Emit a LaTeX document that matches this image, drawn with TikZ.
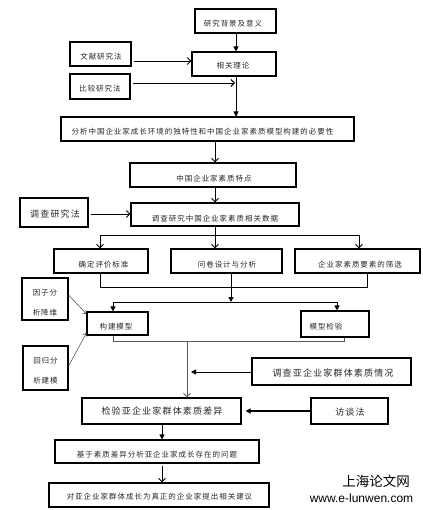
\documentclass[tikz,border=0pt]{standalone}
\usepackage{fontspec}
\newfontfamily\cjk[LetterSpace=13]{Noto Sans CJK SC}
\newfontfamily\cjkplain{Noto Sans CJK SC}
\newfontfamily\wmfont{Liberation Sans}
\usetikzlibrary{arrows.meta}
\begin{document}
\begin{tikzpicture}[x=1pt,y=-1pt,
 box/.style={draw, line width=1.1pt, inner sep=0pt, rectangle},
 t/.style={inner sep=0pt, font=\cjk\fontsize{7.5}{9}\selectfont, text=black!85},
 tb/.style={inner sep=0pt, font=\cjk\fontsize{9}{11}\selectfont, text=black!85},
 tt/.style={inner sep=0pt, font=\cjk\fontsize{7.5}{20}\selectfont, text=black!85, align=center},
 con/.style={line width=0.9pt},
 gcon/.style={line width=0.9pt, draw=black!65},
 fa/.style={con, -{Triangle[length=5pt,width=5pt]}},
 oa/.style={con, -{Straight Barb[length=3.5pt,width=7pt]}},
 goa/.style={gcon, -{Straight Barb[length=3.5pt,width=7pt]}},
 ta/.style={line width=0.5pt, draw=black!75, -{Straight Barb[length=3pt,width=5pt]}},
]
\useasboundingbox (0,0) rectangle (422,510);

% boxes
\node[box,minimum width=81pt,minimum height=24pt] (bg) at (235.5,21) {};
\node[t] (bgt) at (233,24) {研究背景及意义};
\node[box,minimum width=84pt,minimum height=24pt] (lilun) at (234,64) {};
\node[t] (lilunt) at (233,66) {相关理论};
\node[box,minimum width=61pt,minimum height=24pt] (wenxian) at (100.5,54) {};
\node[t] (wenxiant) at (101,57) {文献研究法};
\node[box,minimum width=60pt,minimum height=25pt] (bijiao) at (100,86.5) {};
\node[t] (bijiaot) at (100,89) {比较研究法};
\node[box,minimum width=293pt,minimum height=24pt] (fenxi) at (207.5,129) {};
\node[t] (fenxit) at (202.5,132) {分析中国企业家成长环境的独特性和中国企业家素质模型构建的必要性};
\node[box,minimum width=166pt,minimum height=24pt] (tedian) at (213,175) {};
\node[t] (tediant) at (214,179) {中国企业家素质特点};
\node[box,minimum width=168pt,minimum height=23pt] (diaocha) at (215,214.5) {};
\node[t] (diaochat) at (215,219) {调查研究中国企业家素质相关数据};
\node[box,minimum width=68pt,minimum height=29pt] (dcfa) at (54,212.5) {};
\node[tb] (dcfat) at (55,214) {调查研究法};
\node[box,minimum width=94pt,minimum height=24pt] (biaozhun) at (101,261) {};
\node[t] (biaozhunt) at (103.5,265) {确定评价标准};
\node[box,minimum width=111pt,minimum height=24pt] (wenjuan) at (226.5,261) {};
\node[t] (wenjuant) at (227,265) {问卷设计与分析};
\node[box,minimum width=125pt,minimum height=24pt] (shaixuan) at (357.5,261) {};
\node[t] (shaixuant) at (360,265) {企业家素质要素的筛选};
\node[box,minimum width=46pt,minimum height=42pt] (yinzi) at (45,299) {};
\node[tt] (yinzit) at (45,303) {因子分\\析降维};
\node[box,minimum width=61pt,minimum height=23pt] (goujian) at (117.5,323.5) {};
\node[t] (goujiant) at (116,327) {构建模型};
\node[box,minimum width=68pt,minimum height=26pt] (jianyan) at (335,324) {};
\node[t] (jianyant) at (326,327) {模型检验};
\node[box,minimum width=45pt,minimum height=44pt] (huigui) at (45.5,368) {};
\node[tt] (huiguit) at (45.5,371) {回归分\\析建模};
\node[box,minimum width=159pt,minimum height=27pt] (yaqk) at (331.5,371.5) {};
\node[tb] (yaqkt) at (333,373) {调查亚企业家群体素质情况};
\node[box,minimum width=159pt,minimum height=26pt] (chayi) at (161.5,411) {};
\node[tb] (chayit) at (162,411) {检验亚企业家群体素质差异};
\node[box,minimum width=77pt,minimum height=26pt] (fangtan) at (349.5,411) {};
\node[tb] (fangtant) at (350,412) {访谈法};
\node[box,minimum width=204pt,minimum height=23pt] (wenti) at (157,451.5) {};
\node[t] (wentit) at (157,455) {基于素质差异分析亚企业家成长存在的问题};
\node[box,minimum width=220pt,minimum height=24pt] (jianyi) at (159,495) {};
\node[t] (jianyit) at (159.5,497) {对亚企业家群体成长为真正的企业家提出相关建议};

% watermark
\node[inner sep=0pt, font=\cjkplain\fontsize{13.5}{15}\selectfont] (wm1) at (376,481) {上海论文网};
\node[inner sep=0pt, anchor=base, font=\wmfont\fontsize{12}{14}\selectfont] (wm2) at (361.5,502) {www.e-lunwen.com};

% coordinates
\coordinate (xa) at (236,0);
\coordinate (xb) at (215,0);
\coordinate (xc) at (162,0);
\coordinate (w1) at (0,61);
\coordinate (b1) at (235,83);
\coordinate (d1) at (0,214);
\coordinate (h1) at (0,235);
\coordinate (h1l) at (100,235);
\coordinate (h1r) at (359,235);
\coordinate (h2l) at (100,287);
\coordinate (h2m) at (231,287);
\coordinate (h2r) at (367,287);
\coordinate (h3m) at (231,302);
\coordinate (h3l) at (113,302);
\coordinate (h3r) at (337,302);
\coordinate (g1) at (113,341);
\coordinate (g2) at (344,341);
\coordinate (v2) at (187,341);
\coordinate (y1) at (191,372);

% connectors
\draw[fa] (bg.south -| xa) -- (lilun.north -| xa);
\draw[oa, shorten <=2pt] (wenxian.east |- w1) -- (lilun.west |- w1);
\draw[oa, shorten <=2pt] (bijiao.east |- b1) -- (b1);
\draw[con] (lilun.south -| xa) -- (fenxi.north -| xa);
\draw[fa] (lilun.south -| xa) -- (fenxi.north -| xa);
\draw[oa] (fenxi.south -| xb) -- (tedian.north -| xb);
\draw[oa] (tedian.south -| xb) -- (diaocha.north -| xb);
\draw[oa, shorten <=2pt] (dcfa.east |- d1) -- (diaocha.west |- d1);
\draw[con] (diaocha.south -| xb) -- (h1 -| xb);
\draw[con] (h1l) -- (h1r);
\draw[oa] (h1l) -- (biaozhun.north -| h1l);
\draw[oa] (h1 -| xb) -- (wenjuan.north -| xb);
\draw[oa] (h1r) -- (shaixuan.north -| h1r);
\draw[con] (biaozhun.south -| h2l) -- (h2l) -- (h2r) -- (shaixuan.south -| h2r);
\draw[con] (wenjuan.south -| h2m) -- (h2m);
\draw[fa] (h2m) -- (h3m);
\draw[con] (h3l) -- (h3r);
\draw[fa] (h3l) -- (goujian.north -| h3l);
\draw[fa] (h3r) -- (jianyan.north -| h3r);
\draw[ta] ([yshift=4pt]yinzi.east) -- ([yshift=9.5pt]goujian.west);
\draw[ta] ([yshift=2pt]huigui.east) -- ([yshift=-9.5pt]goujian.west);
\draw[gcon] (goujian.south -| g1) -- (g1) -- (g2) -- (jianyan.south -| g2);
\draw[goa] (v2) -- (chayi.north -| v2);
\draw[fa] (yaqk.west |- y1) -- (y1);
\draw[fa, line width=1.3pt, shorten >=4pt] (fangtan.west) -- (chayi.east);
\draw[fa] (chayi.south -| xc) -- (wenti.north -| xc);
\draw[oa, shorten <=2pt] (wenti.south -| xc) -- (jianyi.north -| xc);
\end{tikzpicture}
\end{document}
